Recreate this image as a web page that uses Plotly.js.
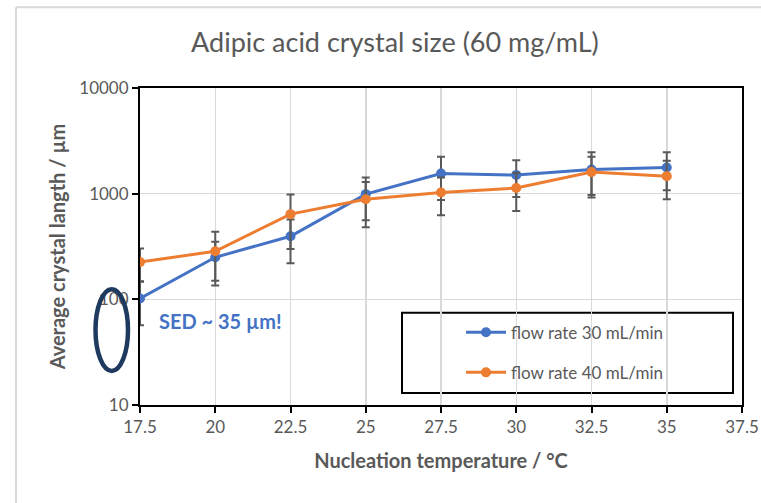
<!DOCTYPE html>
<html>
<head>
<meta charset="utf-8">
<script src="https://cdn.plot.ly/plotly-3.0.1.min.js"></script>
<style>
  html, body { margin: 0; padding: 0; background: #ffffff; }
  #chart { width: 761px; height: 503px; }
</style>
</head>
<body>
<div id="chart"></div>
<script>
// Nucleation temperature (°C)
const temperature = [17.5, 20, 22.5, 25, 27.5, 30, 32.5, 35];

// Average crystal length (µm) and standard deviation, 30 mL/min
const length30 = [102, 250, 395, 990, 1550, 1500, 1690, 1770];
const err30 = [45, 100, 175, 430, 680, 570, 770, 690];

// Average crystal length (µm) and standard deviation, 40 mL/min
const length40 = [225, 285, 640, 885, 1025, 1130, 1600, 1465];
const err40 = [77, 150, 340, 405, 400, 445, 630, 580];

const seriesNames = ['flow rate 30 mL/min', 'flow rate 40 mL/min'];
const yTickVals = [10, 100, 1000, 10000];
const yTickText = ['10', '100', '1000', '10000'];

const FONT = 'Lato, "Noto Sans", sans-serif';
const GREY = '#595959';

function series(name, y, err, color, group) {
  return {
    type: 'scatter',
    mode: 'lines+markers',
    name: name,
    legendgroup: group,
    x: temperature,
    y: y,
    line: { color: color, width: 3 },
    marker: { color: color, size: 10 },
    error_y: { type: 'data', array: err, visible: true, color: GREY, thickness: 2, width: 4 }
  };
}

const data = [
  series(seriesNames[0], length30, err30, '#4472C4', 'a'),
  series(seriesNames[1], length40, err40, '#ED7D31', 'b')
];

const layout = {
  width: 761,
  height: 503,
  margin: { l: 140, r: 19, t: 88, b: 98 },
  paper_bgcolor: '#ffffff',
  plot_bgcolor: '#ffffff',
  font: { family: FONT, color: GREY, size: 17 },
  title: {
    text: 'Adipic acid crystal size (60 mg/mL)',
    font: { family: FONT, size: 27, color: GREY },
    xref: 'container', x: 0.519, xanchor: 'center',
    yref: 'container', y: 1 - 43 / 503, yanchor: 'middle'
  },
  xaxis: {
    range: [17.5, 37.5],
    dtick: 2.5,
    tick0: 17.5,
    showgrid: true,
    gridcolor: '#d9d9d9',
    gridwidth: 1.5,
    showline: true,
    linecolor: '#000000',
    linewidth: 2,
    mirror: true,
    ticks: 'outside',
    ticklen: 6,
    tickwidth: 2,
    tickcolor: '#000000',
    tickfont: { family: FONT, size: 17, color: GREY },
    zeroline: false,
    title: {
      text: '<b>Nucleation temperature / °C</b>',
      font: { family: FONT, size: 20, color: GREY },
      standoff: 18
    }
  },
  yaxis: {
    type: 'log',
    range: [1, 4],
    tickvals: yTickVals,
    ticktext: yTickText,
    showgrid: true,
    gridcolor: '#d9d9d9',
    gridwidth: 1.5,
    showline: true,
    linecolor: '#000000',
    linewidth: 2,
    mirror: true,
    ticks: 'outside',
    ticklen: 6,
    tickwidth: 2,
    tickcolor: '#000000',
    tickfont: { family: FONT, size: 17, color: GREY },
    zeroline: false,
    title: {
      text: '<b>Average crystal langth / µm</b>',
      font: { family: FONT, size: 20, color: GREY },
      standoff: 8
    }
  },
  showlegend: true,
  legend: {
    x: (461 - 140) / 602,
    xanchor: 'left',
    y: (404 - 314) / 316,
    yanchor: 'top',
    bgcolor: 'rgba(0,0,0,0)',
    borderwidth: 0,
    font: { family: FONT, size: 17, color: GREY },
    tracegroupgap: 15,
    itemwidth: 40
  },
  shapes: [
    // legend frame
    {
      type: 'rect', xref: 'paper', yref: 'paper',
      x0: (402 - 140) / 602, x1: (733 - 140) / 602,
      y0: (404 - 392) / 316, y1: (404 - 312) / 316,
      line: { color: '#000000', width: 2 }, fillcolor: '#ffffff', layer: 'below'
    },
    // outline around the 100 µm tick region
    {
      type: 'circle', xref: 'paper', yref: 'paper',
      x0: (95.5 - 140) / 602, x1: (128 - 140) / 602,
      y0: (404 - 370) / 316, y1: (404 - 288.5) / 316,
      line: { color: '#1F3A5F', width: 4.5 }
    },
    // chart frame lines
    {
      type: 'line', xref: 'paper', yref: 'paper',
      x0: (16 - 140) / 602, x1: (761 - 140) / 602,
      y0: (404 - 7.5) / 316, y1: (404 - 7.5) / 316,
      line: { color: '#d9d9d9', width: 2 }
    },
    {
      type: 'line', xref: 'paper', yref: 'paper',
      x0: (16 - 140) / 602, x1: (16 - 140) / 602,
      y0: (404 - 7.5) / 316, y1: (404 - 503) / 316,
      line: { color: '#d9d9d9', width: 2 }
    }
  ],
  annotations: [
    {
      text: '<b>SED ~ 35 µm!</b>',
      xref: 'paper', yref: 'paper',
      x: (157 - 140) / 602, xanchor: 'left',
      y: (404 - 320) / 316, yanchor: 'middle',
      showarrow: false,
      font: { family: FONT, size: 20, color: '#4472C4' }
    }
  ]
};

Plotly.newPlot('chart', data, layout, { staticPlot: true, displayModeBar: false });
</script>
</body>
</html>
